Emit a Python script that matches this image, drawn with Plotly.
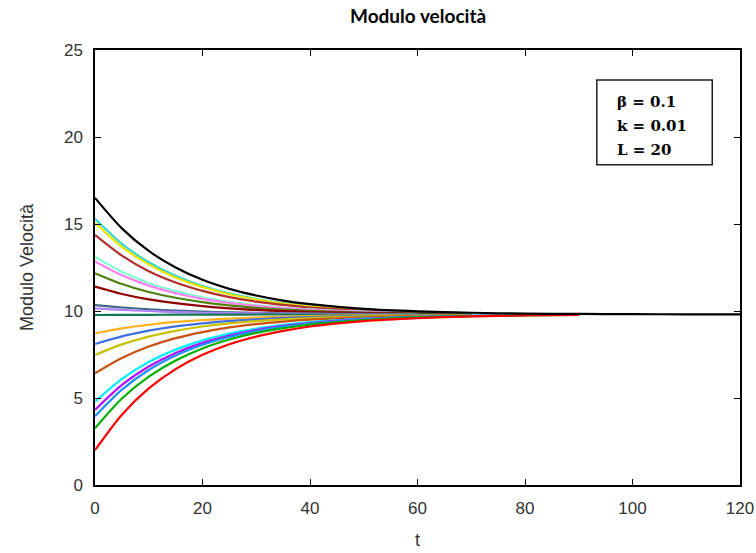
import plotly.graph_objects as go

# time grid (t) at which values were read
t_grid = [0, 5, 10, 15, 20, 25, 30, 35, 40, 50, 60, 70, 80, 90, 100, 110, 120]

# velocity curves (each list follows t_grid, shorter lists end earlier)
v_turquoise = [15.30, 13.86, 12.80, 12.02, 11.44, 11.01, 10.69, 10.46, 10.29, 10.07, 9.95, 9.88]
v_yellow = [15.07, 13.69, 12.68, 11.92, 11.37, 10.96, 10.66, 10.43, 10.27, 10.05, 9.94]
v_brown = [14.37, 13.18, 12.29, 11.64, 11.16, 10.80, 10.54, 10.35, 10.20, 10.02, 9.92, 9.87]
v_aquamarine = [13.12, 12.25, 11.61, 11.14, 10.79, 10.53, 10.34, 10.20, 10.09, 9.96, 9.89, 9.85]
v_violet = [12.84, 12.05, 11.46, 11.02, 10.70, 10.47, 10.29, 10.16, 10.07, 9.95, 9.88]
v_olive = [12.17, 11.55, 11.09, 10.76, 10.51, 10.32, 10.18, 10.08, 10.01, 9.91, 9.86, 9.83]
v_darkred = [11.40, 10.98, 10.67, 10.45, 10.28, 10.15, 10.06, 9.99, 9.94, 9.88, 9.84, 9.82]
v_steel = [10.34, 10.20, 10.10, 10.02, 9.96, 9.92, 9.89, 9.87, 9.85, 9.83, 9.81]
v_purple_light = [10.15, 10.06, 10.00, 9.94, 9.90, 9.88, 9.86, 9.84, 9.83, 9.82, 9.81]
v_seagreen = [9.77, 9.78, 9.78, 9.79, 9.79, 9.79, 9.80, 9.80, 9.80, 9.80, 9.80, 9.80]
v_orange = [8.72, 9.00, 9.21, 9.37, 9.48, 9.56, 9.62, 9.67, 9.70, 9.75, 9.77, 9.78]
v_royal = [8.10, 8.54, 8.87, 9.12, 9.29, 9.43, 9.52, 9.60, 9.65, 9.72, 9.76, 9.78]
v_yellowgreen = [7.47, 8.08, 8.53, 8.86, 9.11, 9.29, 9.42, 9.52, 9.59, 9.69, 9.74, 9.77]
v_chocolate = [6.42, 7.30, 7.96, 8.44, 8.79, 9.06, 9.25, 9.39, 9.50, 9.64, 9.71, 9.75]
v_cyan = [4.79, 6.10, 7.07, 7.78, 8.31, 8.70, 8.99, 9.20, 9.36, 9.56, 9.67, 9.73, 9.76]
v_magenta = [4.31, 5.75, 6.81, 7.59, 8.17, 8.59, 8.91, 9.14, 9.31, 9.53, 9.65, 9.72, 9.76]
v_dodger = [3.95, 5.48, 6.61, 7.44, 8.06, 8.51, 8.85, 9.10, 9.28, 9.52, 9.65, 9.72]
v_green = [3.26, 4.97, 6.23, 7.16, 7.85, 8.36, 8.74, 9.02, 9.22, 9.48, 9.63, 9.71, 9.75, 9.77]
v_red = [2.00, 4.04, 5.55, 6.66, 7.48, 8.09, 8.53, 8.86, 9.11, 9.42, 9.59, 9.69, 9.74, 9.77]
v_black = [16.50, 14.75, 13.45, 12.50, 11.79, 11.27, 10.89, 10.60, 10.39, 10.12, 9.98, 9.90, 9.85, 9.83, 9.82, 9.81, 9.81]

curves = [v_turquoise, v_yellow, v_brown, v_aquamarine, v_violet, v_olive, v_darkred,
          v_steel, v_purple_light, v_seagreen, v_orange, v_royal, v_yellowgreen, v_chocolate,
          v_cyan, v_magenta, v_dodger, v_green, v_red, v_black]
colors = ["#30d8d0", "#f0e000", "#b03030", "#80ffd0", "#ff80f0", "#508010", "#900000",
          "#406880", "#b080ff", "#107850", "#ffb020", "#4070e0", "#c8c000", "#c85010",
          "#00f0ff", "#b010ff", "#2090ff", "#00b000", "#ff0000", "#000000"]

x_ticks = [0, 20, 40, 60, 80, 100, 120]
y_ticks = [0, 5, 10, 15, 20, 25]

fig = go.Figure()
for vals, col in zip(curves, colors):
    fig.add_trace(go.Scatter(x=t_grid[:len(vals)], y=vals, mode="lines",
                             line=dict(color=col, width=2.2, shape="spline", smoothing=0.8),
                             showlegend=False, hoverinfo="skip", cliponaxis=True))

axis_font = dict(family="Liberation Sans", size=17, color="#333333")
common = dict(showgrid=False, zeroline=False, showline=True, linecolor="black", linewidth=1.5,
              mirror="ticks", ticks="inside", ticklen=6, tickcolor="black", tickwidth=1,
              tickfont=axis_font, ticklabelstandoff=7, automargin=False)

fig.update_xaxes(range=[0, 120], tickvals=x_ticks,
                 title=dict(text="t", font=dict(family="Liberation Sans", size=18, color="#333333"), standoff=16),
                 **common)
fig.update_yaxes(range=[0, 25], tickvals=y_ticks,
                 title=dict(text="Modulo Velocità", font=dict(family="Liberation Sans", size=18, color="#333333"), standoff=26),
                 **common)

fig.update_layout(
    width=756, height=553,
    margin=dict(l=95, r=16, t=50, b=68),
    paper_bgcolor="white", plot_bgcolor="white",
    title=dict(text="<b>Modulo velocità</b>", x=0.553, xanchor="center", y=0.97, yanchor="middle",
               font=dict(family="Lato", size=19, color="black")),
)

# parameter box
fig.add_shape(type="rect", xref="paper", yref="paper", x0=0.778, x1=0.957, y0=0.736, y1=0.931,
              line=dict(color="#202020", width=1.5), fillcolor="white")
param_lines = ["β = 0.1", "k = 0.01", "L = 20"]
for i, txt in enumerate(param_lines):
    fig.add_annotation(xref="paper", yref="paper", x=0.806, y=0.880 - i * 0.055,
                       xanchor="left", yanchor="middle", text="<b>" + txt + "</b>", showarrow=False,
                       font=dict(family="DejaVu Serif", size=15, color="black"))

fig.write_html("out.html")
